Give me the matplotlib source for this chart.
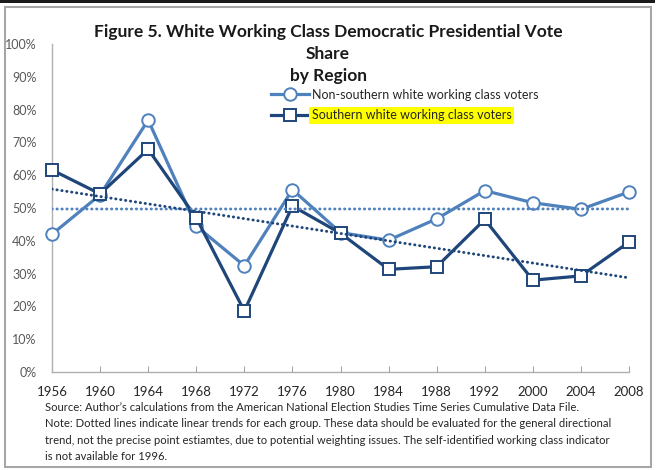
import numpy as np
import matplotlib
matplotlib.use("Agg")
import matplotlib.pyplot as plt
from matplotlib.patches import Rectangle

plt.rcParams['font.family'] = ['Lato', 'DejaVu Sans']

years = ["1956", "1960", "1964", "1968", "1972", "1976", "1980",
         "1984", "1988", "1992", "2000", "2004", "2008"]
non_southern = [42.0, 54.0, 76.8, 44.5, 32.4, 55.6, 42.5, 40.2, 46.7, 55.3, 51.6, 49.6, 54.9]
southern = [61.6, 54.3, 67.9, 47.0, 18.6, 50.6, 42.3, 31.3, 32.1, 46.5, 28.0, 29.3, 39.6]
labels = ["Non-southern white working class voters", "Southern white working class voters"]

title = "Figure 5. White Working Class Democratic Presidential Vote\nShare\nby Region"
note = ("Source: Author\u2019s calculations from the American National Election Studies Time Series Cumulative Data File.\n"
        "Note: Dotted lines indicate linear trends for each group. These data should be evaluated for the general directional\n"
        "trend, not the precise point estiamtes, due to potential weighting issues. The self-identified working class indicator\n"
        "is not available for 1996.")

light = "#4F81BD"
dark = "#1F467A"

W, H = 665, 470
fig = plt.figure(figsize=(W / 100, H / 100), dpi=100)
fig.patch.set_facecolor("white")

# frame of the pasted chart + dark strip at top of screenshot
fig.patches.append(Rectangle((0, 1 - 3 / H), 655 / W, 3 / H, transform=fig.transFigure,
                             facecolor="#1a1a1a", edgecolor="none", zorder=0))
fig.patches.append(Rectangle((5 / W, 1 - 467 / H), 646 / W, 460 / H, transform=fig.transFigure,
                             facecolor="none", edgecolor="#A6A6A6", linewidth=1.5, zorder=0))

ax = fig.add_axes([52 / W, 98 / H, 577 / W, 328 / H])
x = np.arange(len(years))

l1, = ax.plot(x, non_southern, color=light, lw=2.3, marker="o", ms=9,
              mfc="white", mec=light, mew=1.4, zorder=3, clip_on=False)
l2, = ax.plot(x, southern, color=dark, lw=2.3, marker="s", ms=8.5,
              mfc="white", mec=dark, mew=1.4, zorder=4, clip_on=False)

# linear trend lines
for vals, c in [(non_southern, light), (southern, dark)]:
    k, b = np.polyfit(x, vals, 1)
    ax.plot(x, k * x + b, color=c, lw=2.1, linestyle=(0, (0.1, 1.6)),
            dash_capstyle="round", zorder=5)

ax.set_xlim(0, len(years) - 1)
ax.set_ylim(0, 100)
ax.set_yticks(np.arange(0, 101, 10))
ax.set_yticklabels([f"{v}%" for v in range(0, 101, 10)])
ax.set_xticks(x)
ax.set_xticklabels(years)
ax.tick_params(axis="y", length=0, pad=11, labelsize=9, labelcolor="#595959")
ax.tick_params(axis="x", direction="in", length=4, color="#A6A6A6", pad=10,
               labelsize=9.5, labelcolor="#262626")
for s in ["top", "right"]:
    ax.spines[s].set_visible(False)
for s in ["left", "bottom"]:
    ax.spines[s].set_color("#B0B0B0")
    ax.spines[s].set_linewidth(1.0)

fig.text(328 / W, 1 - 24 / H, title, ha="center", va="top", fontsize=12.5,
         fontweight="bold", linespacing=1.45, color="#1a1a1a")

leg = ax.legend([l1, l2], labels, loc="center left",
                bbox_to_anchor=(271 / W, 1 - 105 / H), bbox_transform=fig.transFigure,
                frameon=False, fontsize=9, handlelength=3.0, handletextpad=0.25,
                labelspacing=0.7, borderpad=0, borderaxespad=0)
leg.get_texts()[1].set_bbox(dict(facecolor="#FFFF00", edgecolor="none", pad=2))
for t in leg.get_texts():
    t.set_color("#262626")

fig.text(45 / W, 1 - 402 / H, note, ha="left", va="top", fontsize=8.1,
         linespacing=1.6, color="#262626")

fig.savefig("out.png", dpi=100)
